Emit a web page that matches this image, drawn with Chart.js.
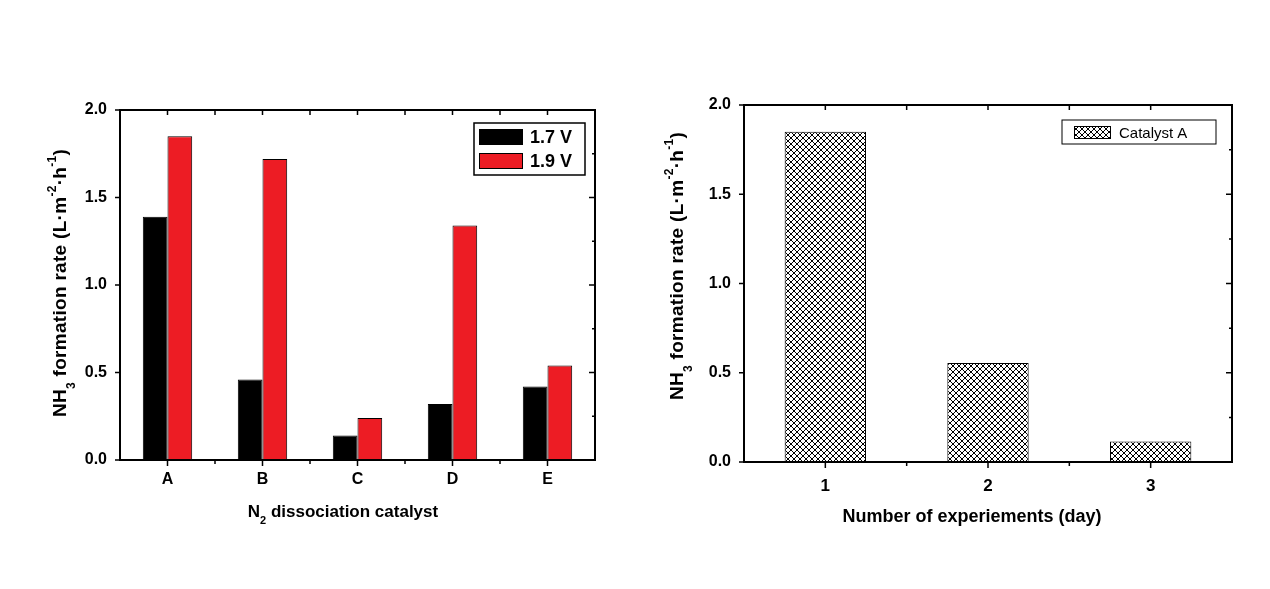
<!DOCTYPE html>
<html>
<head>
<meta charset="utf-8">
<script src="https://cdn.jsdelivr.net/npm/chart.js@4.4.1/dist/chart.umd.min.js"></script>
<style>
  html, body { margin: 0; padding: 0; background: #fff; }
  #wrap { position: relative; width: 1270px; height: 589px; }
  canvas { position: absolute; top: 0; }
</style>
</head>
<body>
<div id="wrap">
  <canvas id="c1" width="635" height="589" style="left:0"></canvas>
  <canvas id="c2" width="635" height="589" style="left:635px"></canvas>
</div>
<script>
// データ
const catalysts = ['A', 'B', 'C', 'D', 'E'];
const rate17V = [1.39, 0.46, 0.14, 0.32, 0.42];
const rate19V = [1.85, 1.72, 0.24, 1.34, 0.54];
const days = ['1', '2', '3'];
const rateCatalystA = [1.85, 0.555, 0.115];
const seriesLabels = ['1.7 V', '1.9 V', 'Catalyst A'];

const FAMILY = '"Liberation Sans", Arial, sans-serif';
Chart.defaults.font.family = FAMILY;
Chart.defaults.color = '#000';

// 網掛けパターン
function crossHatch() {
    const s = 6;
    const c = document.createElement('canvas');
    c.width = s; c.height = s;
    const g = c.getContext('2d');
    g.fillStyle = '#fff';
    g.fillRect(0, 0, s, s);
    g.strokeStyle = '#000';
    g.lineWidth = 1;
    g.beginPath();
    g.moveTo(0, 0); g.lineTo(s, s);
    g.moveTo(0, s); g.lineTo(s, 0);
    g.stroke();
    return g.createPattern(c, 'repeat');
}

// 下付き・上付き文字付きテキスト
function richText(ctx, parts, x, y, size, angle, spacing) {
    const small = Math.round(size * 0.62);
    ctx.save();
    ctx.translate(x, y);
    ctx.rotate(angle);
    ctx.letterSpacing = (spacing || 0) + 'px';
    const widths = parts.map(p => {
        ctx.font = `bold ${p[1] ? small : size}px ${FAMILY}`;
        return ctx.measureText(p[0]).width;
    });
    let cx = -widths.reduce((a, b) => a + b, 0) / 2;
    ctx.textBaseline = 'middle';
    ctx.textAlign = 'left';
    ctx.fillStyle = '#000';
    parts.forEach((p, i) => {
        ctx.font = `bold ${p[1] ? small : size}px ${FAMILY}`;
        const dy = p[1] === 'sub' ? size * 0.55 : p[1] === 'sup' ? -size * 0.42 : 0;
        ctx.fillText(p[0], cx, dy);
        cx += widths[i];
    });
    ctx.restore();
}

const yTitle = [['NH'], ['3', 'sub'], [' formation rate (L·m'], ['-2', 'sup'], ['·h'], ['-1', 'sup'], [')']];

// 枠・目盛り・タイトル・凡例を描くプラグイン
function framePlugin(cfg) {
    return {
        id: 'frame',
        afterDraw(chart) {
            const ctx = chart.ctx;
            const a = chart.chartArea;
            const xs = chart.scales.x, ys = chart.scales.y;
            ctx.save();
            ctx.strokeStyle = '#000';
            ctx.lineWidth = 2;
            ctx.strokeRect(a.left, a.top, a.right - a.left, a.bottom - a.top);

            // x 目盛り
            const centers = xs.getLabels().map((_, i) => xs.getPixelForValue(i));
            const bounds = [];
            for (let i = 1; i < centers.length; i++) bounds.push((centers[i - 1] + centers[i]) / 2);
            ctx.lineWidth = 1.5;
            ctx.beginPath();
            centers.forEach(px => {
                ctx.moveTo(px, a.bottom); ctx.lineTo(px, a.bottom + 6);
                ctx.moveTo(px, a.top); ctx.lineTo(px, a.top + 5);
            });
            bounds.forEach(px => {
                ctx.moveTo(px, a.bottom); ctx.lineTo(px, a.bottom + 4);
                ctx.moveTo(px, a.top); ctx.lineTo(px, a.top + 5);
            });
            // y 目盛り
            const tv = ys.ticks.map(t => t.value);
            tv.forEach(v => {
                const py = ys.getPixelForValue(v);
                ctx.moveTo(a.left, py); ctx.lineTo(a.left - 5, py);
                ctx.moveTo(a.right, py); ctx.lineTo(a.right - 6, py);
            });
            for (let i = 1; i < tv.length; i++) {
                const py = ys.getPixelForValue((tv[i - 1] + tv[i]) / 2);
                ctx.moveTo(a.right, py); ctx.lineTo(a.right - 3, py);
            }
            ctx.stroke();

            // 軸タイトル
            richText(ctx, yTitle, cfg.yTitleX, cfg.yTitleY, 19, -Math.PI / 2, 0.3);
            richText(ctx, cfg.xTitle, cfg.xTitleX, cfg.xTitleY, cfg.xTitleSize, 0, 0);

            // 凡例
            const L = cfg.legend;
            ctx.lineWidth = L.border;
            ctx.strokeRect(L.x, L.y, L.w, L.h);
            chart.data.datasets.forEach((ds, i) => {
                const sy = L.y + L.padY + i * L.rowH;
                ctx.fillStyle = ds.backgroundColor;
                ctx.fillRect(L.x + L.padX, sy, L.swW, L.swH);
                ctx.lineWidth = 1;
                ctx.strokeRect(L.x + L.padX + 0.5, sy + 0.5, L.swW - 1, L.swH - 1);
                ctx.fillStyle = '#000';
                ctx.font = L.font;
                ctx.textBaseline = 'middle';
                ctx.textAlign = 'left';
                ctx.fillText(ds.label, L.x + L.padX + L.swW + L.gap, sy + L.swH / 2 + 1);
            });
            ctx.restore();
        }
    };
}

function makeOptions(pad, tickFont, xPad) {
    return {
        responsive: false,
        animation: false,
        layout: { padding: pad },
        plugins: { legend: { display: false }, tooltip: { enabled: false } },
        scales: {
            x: {
                afterFit: s => { s.height = 40; },
                grid: { display: false, drawTicks: false },
                border: { display: false },
                ticks: { padding: xPad, font: { size: tickFont, weight: 'bold' } }
            },
            y: {
                min: 0, max: 2,
                afterFit: s => { s.width = 60; },
                grid: { display: false, drawTicks: false },
                border: { display: false },
                ticks: {
                    stepSize: 0.5, padding: 13,
                    font: { size: 16, weight: 'bold' },
                    callback: v => v.toFixed(1)
                }
            }
        }
    };
}

// 左: 触媒ごとの生成速度
new Chart(document.getElementById('c1'), {
    type: 'bar',
    data: {
        labels: catalysts,
        datasets: [
            { label: seriesLabels[0], data: rate17V, backgroundColor: '#000000', borderColor: '#000', borderWidth: 1,
              categoryPercentage: 0.52, barPercentage: 1.0 },
            { label: seriesLabels[1], data: rate19V, backgroundColor: '#ED1C24', borderColor: '#000', borderWidth: 1,
              categoryPercentage: 0.52, barPercentage: 1.0 }
        ]
    },
    options: makeOptions({ left: 60, right: 40, top: 110, bottom: 89 }, 16, 10),
    plugins: [framePlugin({
        yTitleX: 61, yTitleY: 283,
        xTitle: [['N'], ['2', 'sub'], [' dissociation catalyst']], xTitleX: 343, xTitleY: 512, xTitleSize: 17,
        legend: { x: 474, y: 123, w: 111, h: 52, padX: 5, padY: 6, rowH: 24, swW: 44, swH: 16, gap: 7,
                  border: 1.5, font: `bold 18px ${FAMILY}` }
    })]
});

// 右: 日ごとの生成速度
new Chart(document.getElementById('c2'), {
    type: 'bar',
    data: {
        labels: days,
        datasets: [
            { label: seriesLabels[2], data: rateCatalystA, backgroundColor: crossHatch(), borderColor: '#000', borderWidth: 1,
              categoryPercentage: 0.5, barPercentage: 1.0 }
        ]
    },
    options: makeOptions({ left: 49, right: 38, top: 105, bottom: 87 }, 17, 14),
    plugins: [framePlugin({
        yTitleX: 43, yTitleY: 266,
        xTitle: [['Number of experiements (day)']], xTitleX: 337, xTitleY: 517, xTitleSize: 18,
        legend: { x: 427, y: 120, w: 154, h: 24, padX: 12, padY: 6, rowH: 24, swW: 37, swH: 13, gap: 8,
                  border: 1, font: `15px ${FAMILY}` }
    })]
});
</script>
</body>
</html>
